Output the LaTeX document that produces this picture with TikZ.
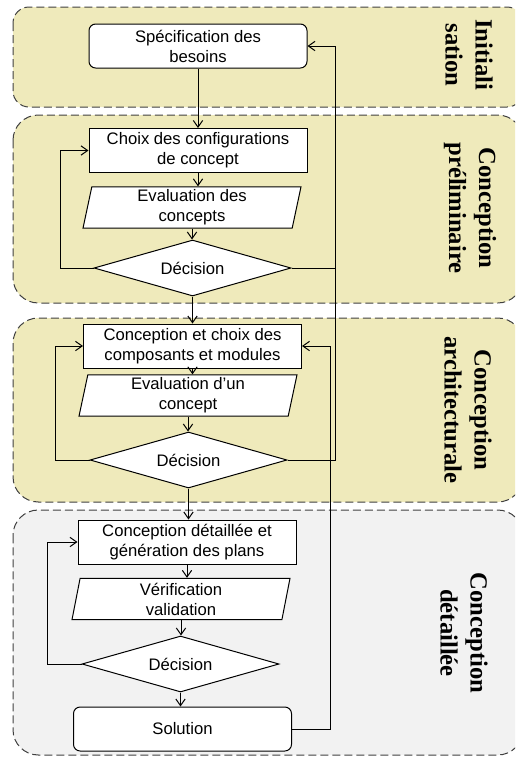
\documentclass[tikz,border=0pt]{standalone}
\usepackage{fontspec}
\newfontfamily\arialf{Liberation Sans}
\newfontfamily\timesf{Liberation Serif}
\usetikzlibrary{shapes.geometric,arrows.meta}
\definecolor{kaki}{RGB}{239,234,187}
\definecolor{grisclair}{RGB}{242,242,242}
\definecolor{bord}{RGB}{64,64,64}

\begin{document}
\begin{tikzpicture}[x=0.75pt, y=-0.75pt,
    etape/.style={draw, fill=white, line width=0.75pt, minimum width=163.5pt, minimum height=33pt,
      inner sep=1pt, align=center, font=\arialf\fontsize{12.5}{15}\selectfont},
    debut/.style={etape, rounded corners=5pt},
    evaluation/.style={etape, trapezium, trapezium left angle=77, trapezium right angle=103,
      trapezium stretches body, minimum height=31pt},
    decision/.style={etape, diamond, aspect=3.5, inner sep=0pt, minimum width=147.75pt, minimum height=42pt},
    phase/.style={draw=bord, dash pattern=on 6pt off 3pt, line width=0.75pt},
    titre/.style={rotate=-90, align=center, font=\timesf\bfseries\fontsize{18.5}{22.5}\selectfont},
    fleche/.style={-{Straight Barb[length=5pt,width=7pt]}, line width=0.75pt}]
        \useasboundingbox (0,0) rectangle (515,758);
        \clip (0,0) rectangle (515,758);

        % Phases
        \draw[phase, fill=kaki, rounded corners=12pt] (13,7) rectangle (523,107);
        \draw[phase, fill=kaki, rounded corners=19pt] (13,115) rectangle (523,303);
        \draw[phase, fill=kaki, rounded corners=19pt] (13,318) rectangle (523,502);
        \draw[phase, fill=grisclair, rounded corners=19pt] (13,510) rectangle (523,755);

        \node[titre] (t1) at (469,55) {Initiali\\sation};
        \node[titre] (t2) at (470,208) {Conception\\préliminaire};
        \node[titre] (t3) at (468,410) {Conception\\architecturale};
        \node[titre] (t4) at (464,633) {Conception\\détaillée};

        % Etapes
        \node[debut] (spec) at (198,46) {Spécification des\\besoins};
        \node[etape] (choix) at (198,150.5) {Choix des configurations\\de concept};
        \node[evaluation] (eval1) at (192,207.5) {Evaluation des\\concepts};
        \node[decision] (dec1) at (192.5,268) {Décision};

        \node[etape] (conc) at (192.5,346) {Conception et choix des\\composants et modules};
        \node[evaluation] (eval2) at (188,395.5) {Evaluation d’un\\concept};
        \node[decision] (dec2) at (188.5,460) {Décision};

        \node[etape] (cdet) at (187,542) {Conception détaillée  et\\génération des plans};
        \node[evaluation] (verif) at (181,599) {Vérification\\validation};
        \node[decision] (dec3) at (180.5,664) {Décision};
        \node[debut] (sol) at (182.5,729) {Solution};

        % Liaisons
        \draw[fleche] (spec.south) -- (spec.south |- choix.north);
        \draw[fleche] (choix.south) -- (choix.south |- eval1.north);
        \draw[fleche] (eval1.south) -- (eval1.south |- dec1.north);
        \draw[fleche] (dec1.south) -- (dec1.south |- conc.north);
        \draw[fleche] (conc.south) -- (conc.south |- eval2.north);
        \draw[fleche] (eval2.south) -- (eval2.south |- dec2.north);
        \draw[fleche] (dec2.south) -- (dec2.south |- cdet.north);
        \draw[fleche] (cdet.south) -- (cdet.south |- verif.north);
        \draw[fleche] (verif.south) -- (verif.south |- dec3.north);
        \draw[fleche] (dec3.south) -- (dec3.south |- sol.north);

        % Retours
        \draw[fleche] (dec1.west) -- ++(-33,0) |- (choix.west);
        \draw[fleche] (dec2.west) -- ++(-34,0) |- (conc.west);
        \draw[fleche] (dec3.west) -- ++(-34,0) |- (cdet.west);

        \coordinate (r1) at (335,0);
        \coordinate (r2) at (330,0);
        \draw[line width=0.75pt] (dec1.east) -- (dec1.east -| r1);
        \draw[fleche] (dec2.east) -- (dec2.east -| r1) |- (spec.east);
        \draw[fleche] (sol.east) -- (sol.east -| r2) |- (conc.east);
    \end{tikzpicture}
\end{document}
